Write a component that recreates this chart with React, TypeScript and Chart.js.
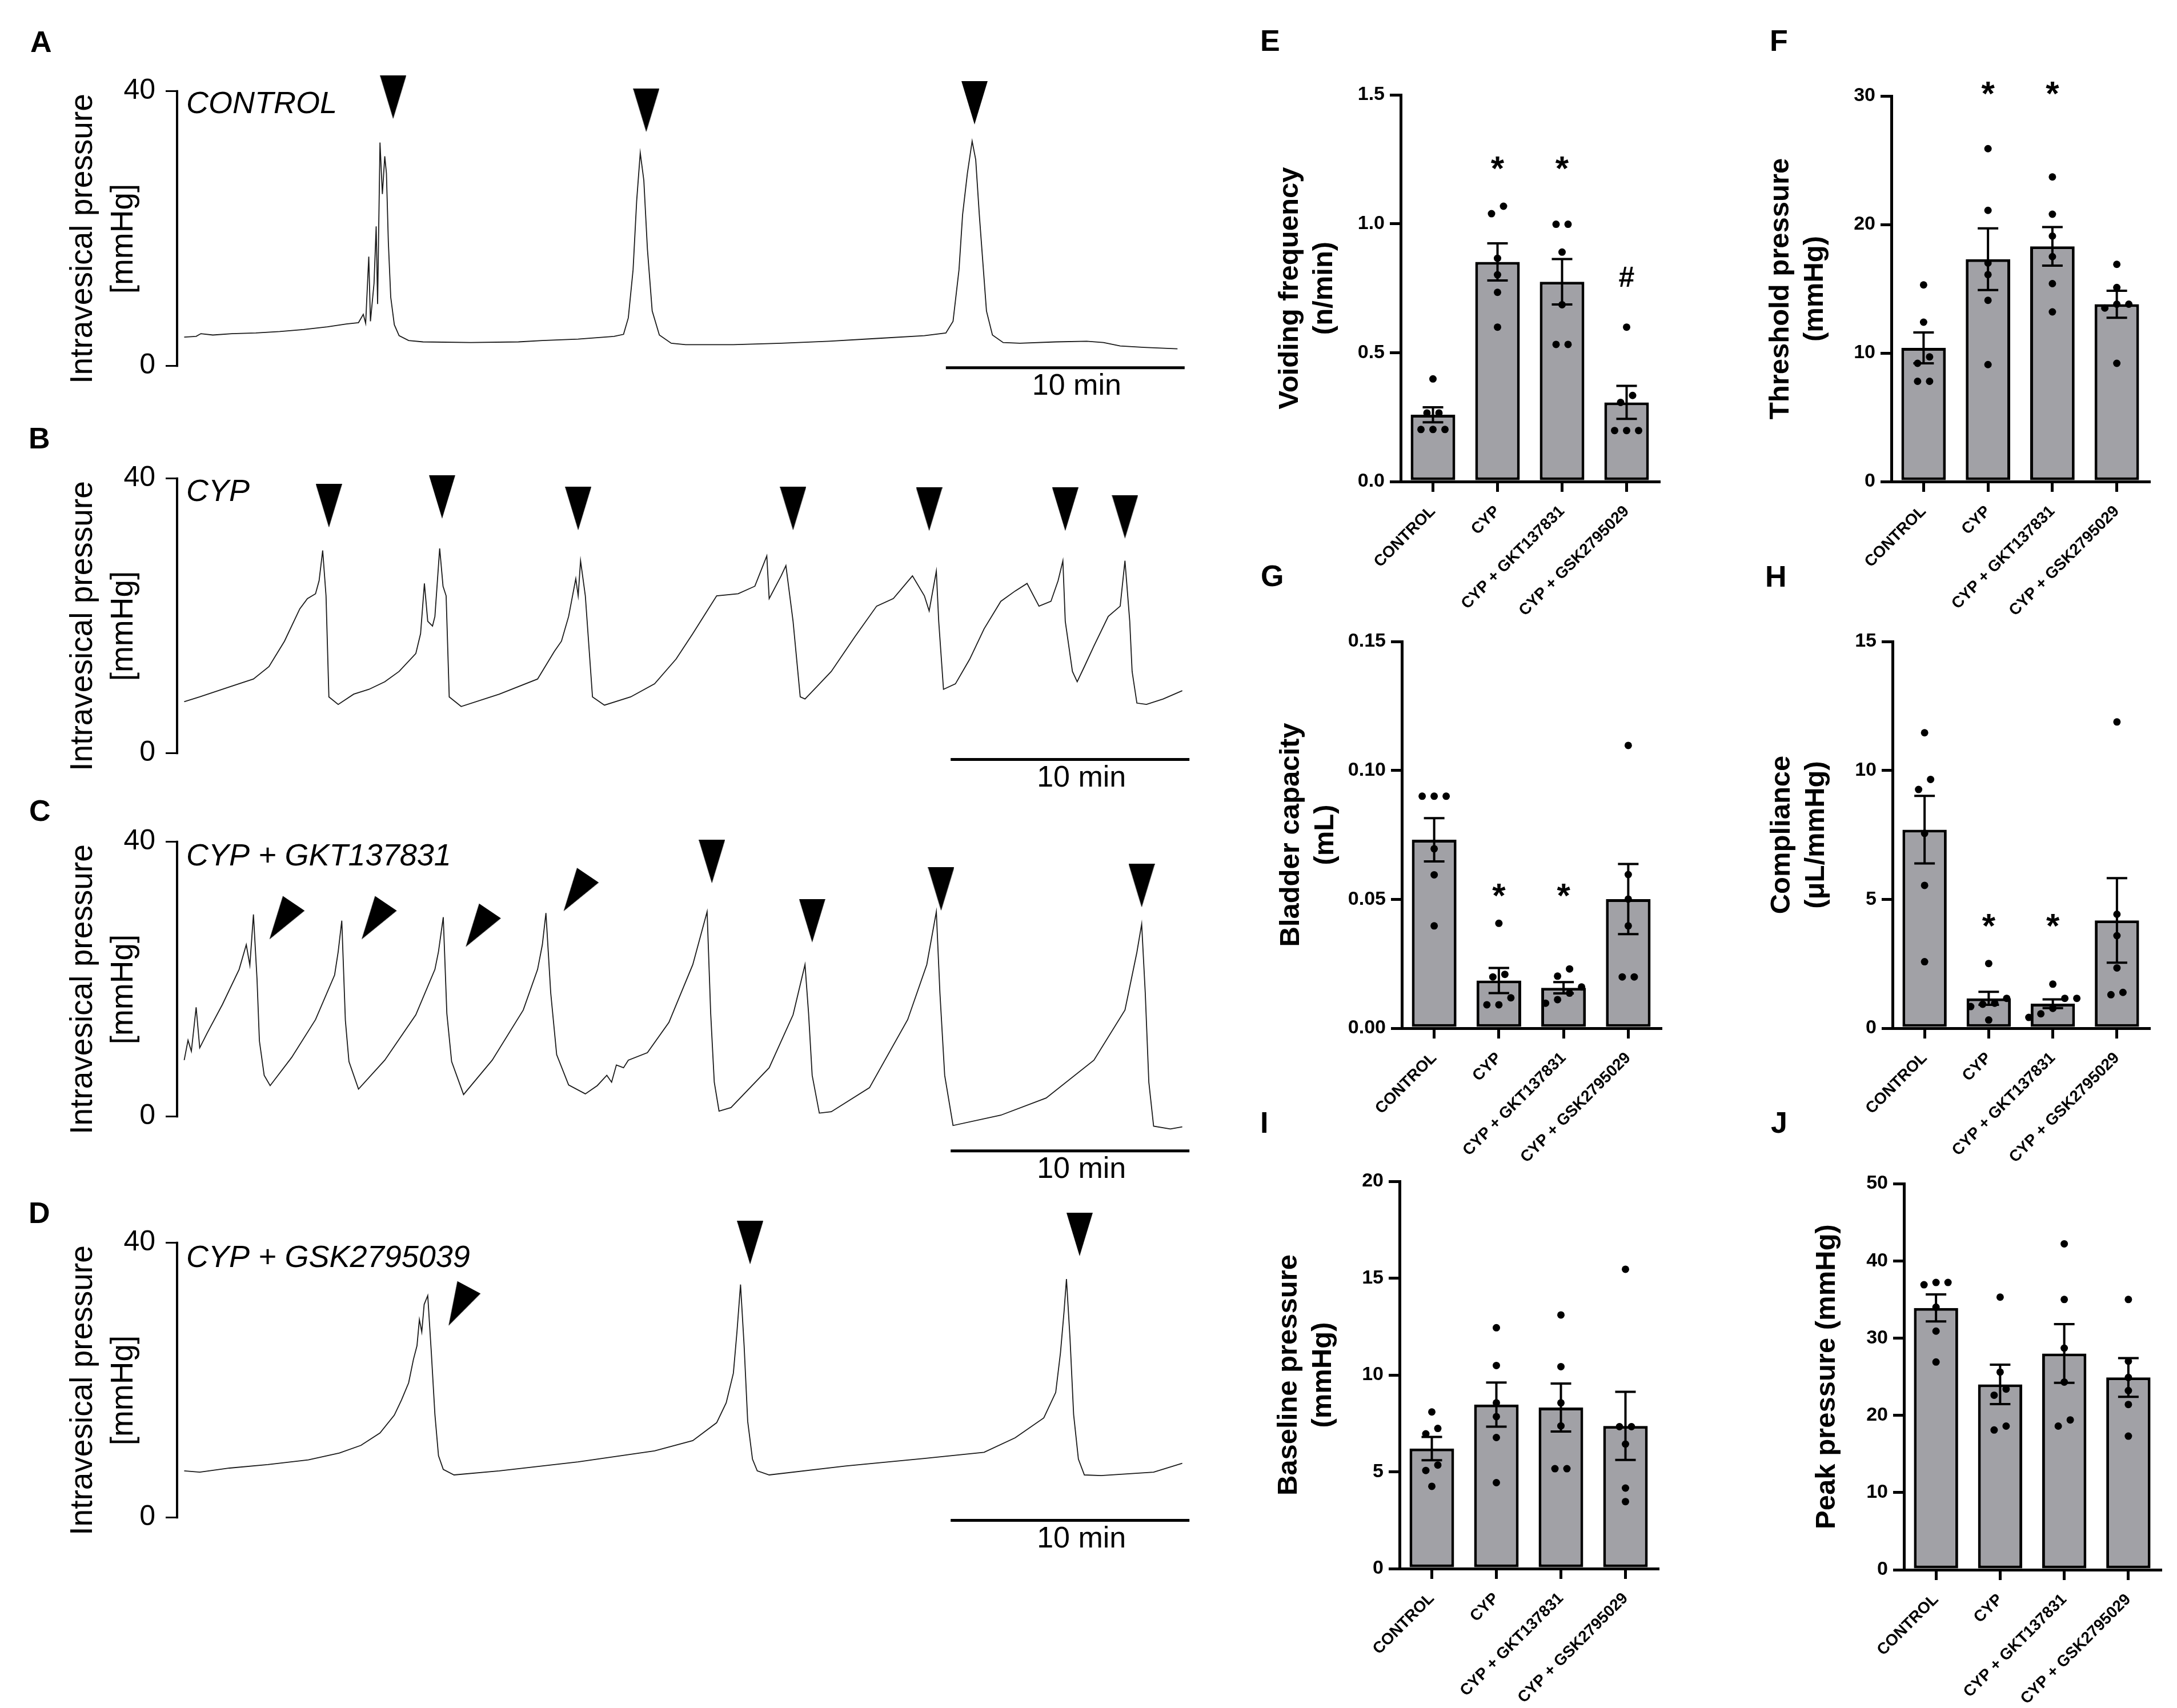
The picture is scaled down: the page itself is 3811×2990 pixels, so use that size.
import React, { useEffect, useRef } from 'react';
import { Chart, registerables } from 'chart.js';

Chart.register(...registerables);

const FONT = "'Liberation Sans', Arial, Helvetica, sans-serif";

// ---------------- Cystometry traces: [time (min), pressure (mmHg)] ----------------
const traceTicks = [0, 40];
const scaleBarLabel = '10 min';

const controlTrace: number[][] = [
  [0, 4.2], [0.5, 4.3], [0.7, 4.7], [1.2, 4.5], [2, 4.7], [3, 4.8], [4, 5.0], [5, 5.3], [6, 5.7], [6.8, 6.1],
  [7.3, 6.3], [7.5, 7.5], [7.6, 6.2], [7.73, 15.9], [7.8, 6.5], [7.95, 12.0], [8.04, 20.3], [8.1, 9.0], [8.2, 32.5],
  [8.3, 25.0], [8.4, 30.5], [8.47, 28.0], [8.55, 18.0], [8.65, 10.0], [8.8, 6.0], [9.0, 4.4], [9.4, 3.7], [10, 3.5],
  [12, 3.4], [14, 3.5], [15, 3.7], [16.5, 3.9], [18, 4.3], [18.4, 4.6], [18.6, 7.0], [18.8, 14.0], [18.95, 24.0],
  [19.1, 31.0], [19.25, 27.0], [19.4, 17.0], [19.6, 8.0], [19.9, 4.5], [20.4, 3.3], [21, 3.1], [23, 3.1], [25, 3.3],
  [27, 3.6], [29, 4.0], [31, 4.4], [31.9, 4.8], [32.2, 6.5], [32.45, 14.0], [32.6, 22.0], [32.8, 28.0], [33.0, 32.7],
  [33.15, 30.0], [33.3, 22.0], [33.45, 15.0], [33.6, 8.0], [33.85, 4.5], [34.3, 3.4], [35, 3.3], [36.5, 3.5],
  [37.8, 3.6], [38.5, 3.4], [39.2, 2.9], [40.2, 2.7], [41.6, 2.5],
];

const cypTrace: number[][] = [
  [0, 7.5], [0.65, 8.2], [1.94, 9.7], [2.9, 10.8], [3.55, 12.6], [4.2, 16.3], [4.84, 21.0], [5.16, 22.5], [5.5, 23.2],
  [5.65, 25.1], [5.8, 29.5], [5.94, 22.9], [6.06, 8.2], [6.45, 7.1], [7.1, 8.6], [7.74, 9.3], [8.4, 10.4], [9.0, 11.9],
  [9.7, 14.5], [9.9, 17.4], [10.06, 24.7], [10.2, 19.2], [10.4, 18.5], [10.5, 19.9], [10.7, 29.8], [10.84, 24.3],
  [10.97, 22.9], [11.1, 8.2], [11.6, 6.8], [13.2, 8.6], [14.8, 10.8], [15.5, 14.8], [15.8, 16.3], [16.1, 19.9],
  [16.4, 25.4], [16.5, 22.9], [16.6, 28.0], [16.8, 22.9], [17.1, 8.2], [17.6, 7.0], [18.7, 8.2], [19.7, 10.1],
  [20.6, 13.7], [21.3, 17.4], [21.9, 20.7], [22.3, 22.9], [23.2, 23.2], [23.9, 24.3], [24.4, 28.7], [24.5, 22.5],
  [25.0, 25.8], [25.2, 27.3], [25.5, 19.2], [25.8, 8.2], [26.0, 7.9], [26.5, 9.7], [27.1, 11.9], [28.1, 17.0],
  [29.0, 21.4], [29.7, 22.5], [30.5, 25.8], [31.0, 22.9], [31.2, 20.7], [31.5, 26.5], [31.6, 19.2], [31.8, 9.3],
  [32.3, 10.1], [32.9, 13.7], [33.5, 18.1], [34.2, 22.1], [34.8, 23.6], [35.3, 24.7], [35.8, 21.4], [36.3, 22.1],
  [36.6, 25.1], [36.8, 28.0], [36.9, 19.2], [37.2, 11.9], [37.4, 10.4], [37.7, 12.6], [38.1, 15.6], [38.7, 19.9],
  [39.2, 21.4], [39.4, 28.0], [39.6, 19.2], [39.7, 11.9], [39.9, 7.3], [40.3, 7.1], [41.0, 7.9], [41.8, 9.1],
];

const gktTrace: number[][] = [
  [0, 8.2], [0.16, 11.1], [0.3, 9.5], [0.5, 15.9], [0.65, 10.0], [0.97, 12.2], [1.6, 16.3], [2.3, 21.4], [2.6, 25.0],
  [2.75, 22.0], [2.9, 29.4], [3.05, 20.0], [3.15, 11.0], [3.35, 6.0], [3.6, 4.5], [4.5, 8.6], [5.5, 14.1], [6.3, 20.6],
  [6.45, 24.0], [6.6, 28.5], [6.75, 14.0], [6.9, 8.0], [7.3, 4.0], [8.4, 8.2], [9.7, 14.8], [10.5, 21.4], [10.65, 24.0],
  [10.85, 29.0], [11.0, 15.0], [11.2, 8.0], [11.7, 3.2], [12.9, 8.2], [14.2, 15.5], [14.8, 21.4], [15.0, 25.0],
  [15.15, 29.6], [15.35, 18.0], [15.6, 9.0], [16.1, 4.6], [16.8, 3.3], [17.3, 4.5], [17.7, 6.0], [17.9, 5.0],
  [18.1, 7.5], [18.4, 7.1], [18.6, 8.2], [19.4, 9.3], [20.3, 13.7], [21.3, 22.1], [21.9, 29.8], [22.05, 15.0],
  [22.2, 5.0], [22.4, 0.8], [22.9, 1.3], [24.5, 7.1], [25.5, 14.8], [26.0, 22.1], [26.15, 15.0], [26.3, 6.0],
  [26.6, 0.5], [27.1, 0.7], [28.7, 4.2], [30.3, 14.1], [31.1, 22.1], [31.5, 29.8], [31.65, 18.0], [31.85, 6.0],
  [32.2, -1.3], [34.2, 0.2], [36.1, 2.7], [38.1, 8.2], [39.4, 15.5], [39.9, 23.9], [40.1, 28.0], [40.25, 18.0],
  [40.4, 5.0], [40.6, -1.4], [41.3, -1.8], [41.8, -1.5],
];

const gskTrace: number[][] = [
  [0, 6.8], [0.65, 6.6], [1.9, 7.2], [3.5, 7.7], [5.2, 8.4], [6.5, 9.4], [7.4, 10.5], [8.2, 12.3], [8.8, 14.9],
  [9.1, 17.1], [9.4, 19.6], [9.6, 23.0], [9.75, 25.0], [9.85, 28.8], [9.95, 27.0], [10.05, 31.0], [10.2, 32.3],
  [10.35, 24.0], [10.5, 15.0], [10.65, 9.0], [10.85, 7.0], [11.3, 6.2], [13.2, 6.8], [16.5, 8.1], [19.7, 9.7],
  [21.3, 11.2], [22.3, 13.8], [22.7, 16.7], [23.0, 21.0], [23.15, 27.0], [23.3, 33.9], [23.45, 25.0], [23.6, 14.0],
  [23.8, 8.5], [24.0, 6.8], [24.5, 6.2], [27.7, 7.5], [31.0, 8.6], [33.5, 9.5], [34.8, 11.6], [36.0, 14.5],
  [36.5, 18.2], [36.7, 24.0], [36.85, 30.0], [36.95, 34.7], [37.1, 26.0], [37.25, 15.0], [37.45, 8.5], [37.7, 6.2],
  [38.4, 6.1], [40.6, 6.6], [41.8, 7.9],
];

// arrowheads marking voids: [time (min), pressure (mmHg), rotation (deg)]
const controlArrows: number[][] = [[8.75, 39.1, 0], [19.35, 37.2, 0], [33.1, 38.3, 0]];
const cypArrows: number[][] = [[6.06, 36.0, 0], [10.8, 37.3, 0], [16.5, 35.6, 0], [25.5, 35.6, 0], [31.2, 35.5, 0], [36.9, 35.5, 0], [39.4, 34.4, 0]];
const gktArrows: number[][] = [[4.08, 28.4, 34], [7.94, 28.4, 34], [12.3, 27.3, 34], [16.4, 32.5, 34], [22.1, 37.1, 0], [26.3, 28.5, 0], [31.7, 33.1, 0], [40.1, 33.6, 0]];
const gskArrows: number[][] = [[11.5, 30.7, 28], [23.7, 40.0, 0], [37.5, 41.2, 0]];

// 10-min scale bar: [start min, end min, level mmHg]
const controlScaleBar = [31.9, 41.9, -0.25];
const cypScaleBar = [32.1, 42.1, -0.9];
const gktScaleBar = [32.1, 42.1, -5.0];
const gskScaleBar = [32.1, 42.1, -0.4];

// ---------------- Bar panels ----------------
const categories = ['CONTROL', 'CYP', 'CYP + GKT137831', 'CYP + GSK2795029'];

const voidingMean = [0.259, 0.852, 0.775, 0.307];
const voidingSem = [0.029, 0.072, 0.088, 0.064];
const voidingPoints = [
  [0.398, 0.266, 0.266, 0.202, 0.202, 0.202],
  [1.068, 1.039, 0.866, 0.802, 0.734, 0.599],
  [0.998, 0.998, 0.890, 0.686, 0.532, 0.532],
  [0.599, 0.334, 0.307, 0.198, 0.198, 0.198],
];
const voidingSig = ['', '*', '*', '#'];
const voidingSigY = [0, 1.235, 1.235, 0.785];
const voidingTicks = [0, 0.5, 1.0, 1.5];

const thresholdMean = [10.4, 17.3, 18.3, 13.8];
const thresholdSem = [1.2, 2.4, 1.5, 1.05];
const thresholdPoints = [
  [15.3, 12.4, 9.7, 9.2, 7.8, 7.8],
  [25.9, 21.1, 17.0, 16.1, 14.1, 9.1],
  [23.7, 20.8, 19.1, 17.5, 15.4, 13.2],
  [16.9, 15.1, 13.8, 13.5, 13.8, 9.2],
];
const thresholdSig = ['', '*', '*', ''];
const thresholdSigY = [0, 30.6, 30.6, 0];
const thresholdTicks = [0, 10, 20, 30];

const capacityMean = [0.0731, 0.0185, 0.0157, 0.0501];
const capacitySem = [0.0084, 0.0049, 0.0022, 0.0136];
const capacityPoints = [
  [0.090, 0.090, 0.090, 0.0696, 0.0595, 0.0397],
  [0.0407, 0.0209, 0.0199, 0.0118, 0.0091, 0.0091],
  [0.023, 0.0202, 0.016, 0.0136, 0.0111, 0.0097],
  [0.1097, 0.0596, 0.0501, 0.0397, 0.0199, 0.0199],
];
const capacitySig = ['', '*', '*', ''];
const capacitySigY = [0, 0.0536, 0.0536, 0];
const capacityTicks = [0, 0.05, 0.10, 0.15];

const complianceMean = [7.70, 1.16, 0.95, 4.18];
const complianceSem = [1.31, 0.25, 0.17, 1.64];
const compliancePoints = [
  [11.46, 9.65, 9.26, 7.56, 5.54, 2.58],
  [2.51, 1.16, 0.97, 0.93, 0.84, 0.32],
  [1.71, 1.16, 1.16, 0.77, 0.56, 0.42],
  [11.88, 4.42, 3.59, 2.34, 1.39, 1.30],
];
const complianceSig = ['', '*', '*', ''];
const complianceSigY = [0, 4.18, 4.18, 0];
const complianceTicks = [0, 5, 10, 15];

const baselineMean = [6.2, 8.47, 8.32, 7.37];
const baselineSem = [0.6, 1.14, 1.24, 1.76];
const baselinePoints = [
  [8.09, 7.24, 6.96, 5.35, 5.07, 4.25],
  [12.44, 10.49, 8.56, 7.85, 6.77, 4.44],
  [13.1, 10.43, 8.56, 7.37, 5.16, 5.16],
  [15.46, 7.33, 7.33, 6.43, 4.16, 3.46],
];
const baselineSig = ['', '', '', ''];
const baselineSigY = [0, 0, 0, 0];
const baselineTicks = [0, 5, 10, 15, 20];

const peakMean = [33.9, 24.0, 28.0, 24.9];
const peakSem = [1.75, 2.55, 3.8, 2.5];
const peakPoints = [
  [37.2, 36.9, 37.2, 34.0, 30.9, 26.9],
  [35.3, 25.6, 23.4, 22.6, 18.6, 18.1],
  [42.2, 35.0, 28.7, 24.3, 19.4, 18.6],
  [35.0, 27.0, 24.9, 23.2, 21.4, 17.3],
];
const peakSig = ['', '', '', ''];
const peakSigY = [0, 0, 0, 0];
const peakTicks = [0, 10, 20, 30, 40, 50];

// ---------------- helpers ----------------
let arrowImg: HTMLCanvasElement | null = null;
function getArrow(): HTMLCanvasElement {
  if (arrowImg) return arrowImg;
  const c = document.createElement('canvas');
  c.width = 46;
  c.height = 76;
  const g = c.getContext('2d') as CanvasRenderingContext2D;
  g.fillStyle = '#000';
  g.beginPath();
  g.moveTo(0, 0);
  g.lineTo(46, 0);
  g.lineTo(23, 76);
  g.closePath();
  g.fill();
  arrowImg = c;
  return c;
}

// spread overlapping dots horizontally (GraphPad-like scatter)
function spreadPoints(vals: number[], pxPerUnit: number, thresholdPx: number, step: number, center: number) {
  const sorted = [...vals].sort((a, b) => a - b);
  const groups: number[][] = [];
  let cur: number[] = [];
  for (const v of sorted) {
    if (cur.length && (v - cur[cur.length - 1]) * pxPerUnit >= thresholdPx) {
      groups.push(cur);
      cur = [];
    }
    cur.push(v);
  }
  if (cur.length) groups.push(cur);
  const out: { x: number; y: number }[] = [];
  groups.forEach((g) => g.forEach((v, j) => out.push({ x: center + (j - (g.length - 1) / 2) * step, y: v })));
  return out;
}

type TraceSpec = {
  key: string; label: string; data: number[][]; arrows: number[][]; scaleBar: number[];
  top: number; labelDy: number;
};

const TRACE_W = 2100;
const TRACE_H = 720;
const traceSpecs: TraceSpec[] = [
  { key: 'A', label: 'CONTROL', data: controlTrace, arrows: controlArrows, scaleBar: controlScaleBar, top: 58, labelDy: 24 },
  { key: 'B', label: 'CYP', data: cypTrace, arrows: cypArrows, scaleBar: cypScaleBar, top: 736, labelDy: 25 },
  { key: 'C', label: 'CYP + GKT137831', data: gktTrace, arrows: gktArrows, scaleBar: gktScaleBar, top: 1372, labelDy: 27 },
  { key: 'D', label: 'CYP + GSK2795039', data: gskTrace, arrows: gskArrows, scaleBar: gskScaleBar, top: 2074, labelDy: 28 },
];

function traceConfig(spec: TraceSpec): any {
  const decor = {
    id: 'traceDecor' + spec.key,
    afterDatasetsDraw(chart: any) {
      const { ctx, chartArea, scales } = chart;
      const x = scales.x;
      const y = scales.y;
      ctx.save();
      ctx.strokeStyle = '#000';
      ctx.fillStyle = '#000';
      ctx.lineWidth = 4;
      ctx.beginPath();
      ctx.moveTo(chartArea.left - 2, y.getPixelForValue(traceTicks[0]) + 1.5);
      ctx.lineTo(chartArea.left - 2, y.getPixelForValue(traceTicks[1]) - 1.5);
      ctx.stroke();
      const [s0, s1, lvl] = spec.scaleBar;
      const by = y.getPixelForValue(lvl);
      const bx0 = x.getPixelForValue(s0);
      const bx1 = x.getPixelForValue(s1);
      ctx.lineWidth = 5;
      ctx.beginPath();
      ctx.moveTo(bx0, by);
      ctx.lineTo(bx1, by);
      ctx.stroke();
      ctx.font = `52px ${FONT}`;
      ctx.textAlign = 'center';
      ctx.textBaseline = 'middle';
      ctx.fillText(scaleBarLabel, (bx0 + bx1) / 2 + 20, by + 33);
      ctx.font = `italic 54px ${FONT}`;
      ctx.textAlign = 'left';
      ctx.fillText(spec.label, chartArea.left + 14, y.getPixelForValue(traceTicks[1]) + spec.labelDy);
      ctx.restore();
    },
  };
  return {
    type: 'line',
    data: {
      datasets: [
        {
          type: 'scatter',
          data: spec.arrows.map((a) => ({ x: a[0], y: a[1] })),
          pointStyle: getArrow(),
          pointRotation: spec.arrows.map((a) => a[2]),
          pointRadius: 2,
          clip: false,
        },
        {
          type: 'line',
          data: spec.data.map((p) => ({ x: p[0], y: p[1] })),
          borderColor: '#1a1a1a',
          borderWidth: 1.8,
          pointRadius: 0,
          tension: 0,
          fill: false,
        },
      ],
    },
    options: {
      animation: false,
      responsive: false,
      devicePixelRatio: 1,
      events: [],
      layout: { padding: { left: 0, top: 0, right: TRACE_W - 2078, bottom: 0 } },
      plugins: { legend: { display: false }, tooltip: { enabled: false } },
      scales: {
        x: { type: 'linear', min: -0.25, max: 42, display: false },
        y: {
          type: 'linear', min: -11, max: 48,
          afterBuildTicks: (s: any) => { s.ticks = traceTicks.map((v) => ({ value: v })); },
          afterFit: (s: any) => { s.width = 312; s.paddingTop = 0; s.paddingBottom = 0; },
          border: { display: false },
          grid: { display: true, drawOnChartArea: false, drawTicks: true, tickLength: 22, lineWidth: 3, color: '#000' },
          ticks: { font: { family: FONT, size: 50 }, color: '#000', padding: 18, callback: (v: any) => String(v) },
          title: {
            display: true, text: ['Intravesical pressure', '[mmHg]'],
            font: { family: FONT, size: 55, lineHeight: 1.29 }, color: '#000', padding: { top: 110, bottom: 0 },
          },
        },
      },
    },
    plugins: [decor],
  };
}

type BarSpec = {
  key: string; mean: number[]; sem: number[]; points: number[][]; sig: string[]; sigY: number[];
  ticks: number[]; decimals: number; title: string | string[];
  axisX: number; rightX: number; topY: number; botY: number;
};

const Y_AXIS_W = 260;
const X_AXIS_H = 250;
const PAD_TOP = 60;
const PAD_RIGHT = 40;

const barSpecs: BarSpec[] = [
  { key: 'E', mean: voidingMean, sem: voidingSem, points: voidingPoints, sig: voidingSig, sigY: voidingSigY, ticks: voidingTicks, decimals: 1, title: ['Voiding frequency', '(n/min)'], axisX: 2452, rightX: 2904, topY: 166, botY: 843 },
  { key: 'F', mean: thresholdMean, sem: thresholdSem, points: thresholdPoints, sig: thresholdSig, sigY: thresholdSigY, ticks: thresholdTicks, decimals: 0, title: ['Threshold pressure', '(mmHg)'], axisX: 3311, rightX: 3762, topY: 168, botY: 843 },
  { key: 'G', mean: capacityMean, sem: capacitySem, points: capacityPoints, sig: capacitySig, sigY: capacitySigY, ticks: capacityTicks, decimals: 2, title: ['Bladder capacity', '(mL)'], axisX: 2454, rightX: 2907, topY: 1123, botY: 1800 },
  { key: 'H', mean: complianceMean, sem: complianceSem, points: compliancePoints, sig: complianceSig, sigY: complianceSigY, ticks: complianceTicks, decimals: 0, title: ['Compliance', '(μL/mmHg)'], axisX: 3313, rightX: 3762, topY: 1123, botY: 1800 },
  { key: 'I', mean: baselineMean, sem: baselineSem, points: baselinePoints, sig: baselineSig, sigY: baselineSigY, ticks: baselineTicks, decimals: 0, title: ['Baseline pressure', '(mmHg)'], axisX: 2450, rightX: 2902, topY: 2068, botY: 2746 },
  { key: 'J', mean: peakMean, sem: peakSem, points: peakPoints, sig: peakSig, sigY: peakSigY, ticks: peakTicks, decimals: 0, title: 'Peak pressure (mmHg)', axisX: 3333, rightX: 3782, topY: 2072, botY: 2748 },
];

function barConfig(spec: BarSpec): any {
  const yMax = spec.ticks[spec.ticks.length - 1];
  const pxPerUnit = (spec.botY - spec.topY) / yMax;
  const catPx = (spec.rightX - spec.axisX) / categories.length;
  const step = 21 / catPx;
  const dots = spec.points.flatMap((vals, i) => spreadPoints(vals, pxPerUnit, 18, step, i));
  const twoLines = Array.isArray(spec.title);
  const decor = {
    id: 'barDecor' + spec.key,
    afterDatasetsDraw(chart: any) {
      const { ctx, scales } = chart;
      const x = scales.x;
      const y = scales.y;
      ctx.save();
      ctx.strokeStyle = '#000';
      ctx.fillStyle = '#000';
      ctx.lineWidth = 4;
      spec.mean.forEach((m, i) => {
        const cx = x.getPixelForValue(i);
        const yt = y.getPixelForValue(m + spec.sem[i]);
        const yb = y.getPixelForValue(m - spec.sem[i]);
        ctx.beginPath();
        ctx.moveTo(cx, yt); ctx.lineTo(cx, yb);
        ctx.moveTo(cx - 18, yt); ctx.lineTo(cx + 18, yt);
        ctx.moveTo(cx - 18, yb); ctx.lineTo(cx + 18, yb);
        ctx.stroke();
      });
      ctx.textAlign = 'center';
      ctx.textBaseline = 'middle';
      spec.sig.forEach((s, i) => {
        if (!s) return;
        const size = s === '*' ? 60 : 50;
        ctx.font = `bold ${size}px ${FONT}`;
        const py = y.getPixelForValue(spec.sigY[i]) + (s === '*' ? size * 0.22 : 0);
        ctx.fillText(s, x.getPixelForValue(i), py);
      });
      ctx.restore();
    },
  };
  return {
    type: 'bar',
    data: {
      datasets: [
        {
          type: 'scatter',
          data: dots,
          pointRadius: 6.5,
          pointBackgroundColor: '#000',
          pointBorderWidth: 0,
          clip: false,
        },
        {
          type: 'bar',
          data: spec.mean.map((m, i) => ({ x: i, y: m })),
          backgroundColor: '#a1a1a6',
          borderColor: '#000',
          borderWidth: 5,
          borderSkipped: false,
          categoryPercentage: 1,
          barPercentage: 0.69,
        },
      ],
    },
    options: {
      animation: false,
      responsive: false,
      devicePixelRatio: 1,
      events: [],
      layout: { padding: { left: 0, top: PAD_TOP, right: PAD_RIGHT, bottom: 0 } },
      plugins: { legend: { display: false }, tooltip: { enabled: false } },
      scales: {
        x: {
          type: 'linear', min: -0.5, max: 3.5, offset: false,
          afterBuildTicks: (s: any) => { s.ticks = categories.map((_, i) => ({ value: i })); },
          afterFit: (s: any) => { s.height = X_AXIS_H; s.paddingLeft = 0; s.paddingRight = 0; },
          border: { display: true, width: 5, color: '#000' },
          grid: { display: true, offset: false, drawOnChartArea: false, drawTicks: true, tickLength: 18, lineWidth: 5, color: '#000' },
          ticks: {
            autoSkip: false, maxRotation: 45, minRotation: 45, padding: 18,
            font: { family: FONT, size: 28, weight: 'bold' }, color: '#000',
            callback: (v: any) => categories[Math.round(v)] ?? '',
          },
        },
        y: {
          type: 'linear', min: 0, max: yMax,
          afterBuildTicks: (s: any) => { s.ticks = spec.ticks.map((v) => ({ value: v })); },
          afterFit: (s: any) => { s.width = Y_AXIS_W; s.paddingTop = 0; s.paddingBottom = 0; },
          border: { display: true, width: 5, color: '#000' },
          grid: { display: true, drawOnChartArea: false, drawTicks: true, tickLength: 19, lineWidth: 5, color: '#000' },
          ticks: {
            padding: 9, font: { family: FONT, size: 34, weight: 'bold' }, color: '#000',
            callback: (v: any) => Number(v).toFixed(spec.decimals),
          },
          title: {
            display: true, text: spec.title,
            font: { family: FONT, size: 49, weight: 'bold', lineHeight: 1.22 }, color: '#000',
            padding: { top: twoLines ? 37 : 96, bottom: 0 },
          },
        },
      },
    },
    plugins: [decor],
  };
}

function ChartCanvas({ make, left, top, width, height }: { make: () => any; left: number; top: number; width: number; height: number }) {
  const ref = useRef<HTMLCanvasElement>(null);
  useEffect(() => {
    const chart = new Chart(ref.current as HTMLCanvasElement, make());
    return () => chart.destroy();
  }, []);
  return (
    <canvas
      ref={ref}
      width={width}
      height={height}
      style={{ position: 'absolute', left, top, width, height }}
    />
  );
}

const panelLetters = [
  { t: 'A', x: 53, y: 54 }, { t: 'B', x: 50, y: 748 }, { t: 'C', x: 51, y: 1400 }, { t: 'D', x: 50, y: 2104 },
  { t: 'E', x: 2206, y: 52 }, { t: 'F', x: 3098, y: 52 }, { t: 'G', x: 2207, y: 989 }, { t: 'H', x: 3090, y: 990 },
  { t: 'I', x: 2206, y: 1946 }, { t: 'J', x: 3100, y: 1946 },
];

export default function App() {
  return (
    <div style={{ position: 'absolute', left: 0, top: 0, width: 3811, height: 2990, background: '#fff', overflow: 'hidden' }}>
      {traceSpecs.map((s) => (
        <ChartCanvas key={s.key} make={() => traceConfig(s)} left={0} top={s.top} width={TRACE_W} height={TRACE_H} />
      ))}
      {barSpecs.map((s) => {
        const left = s.axisX - Y_AXIS_W;
        const top = s.topY - PAD_TOP;
        const width = s.rightX - left + PAD_RIGHT;
        const height = s.botY - top + X_AXIS_H;
        return <ChartCanvas key={s.key} make={() => barConfig(s)} left={left} top={top} width={width} height={height} />;
      })}
      {panelLetters.map((l) => (
        <div
          key={l.t}
          style={{
            position: 'absolute', left: l.x, top: l.y - 7, fontFamily: FONT, fontWeight: 'bold',
            fontSize: 52, lineHeight: '52px', color: '#000',
          }}
        >
          {l.t}
        </div>
      ))}
    </div>
  );
}
